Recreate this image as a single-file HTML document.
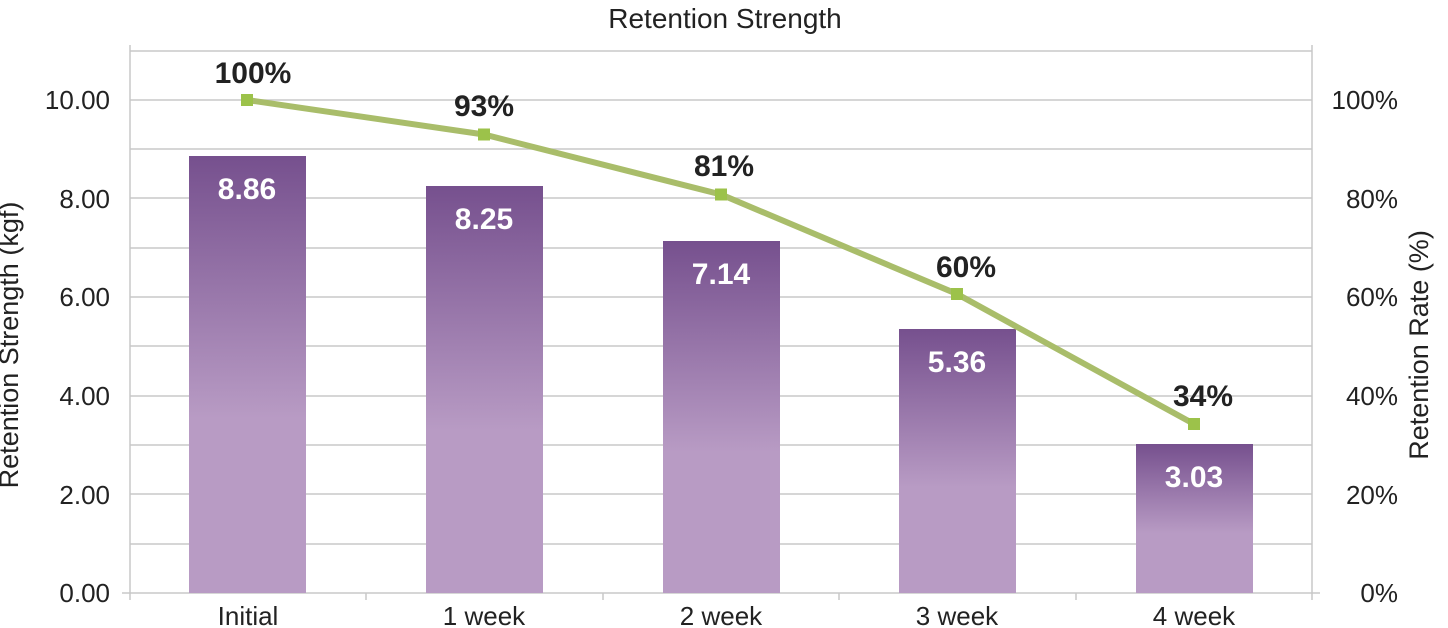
<!DOCTYPE html><html><head><style>body{margin:0;background:#fff}svg{display:block}text{font-family:"Liberation Sans",sans-serif}</style></head><body>
<svg width="1448" height="628" viewBox="0 0 1448 628" xmlns="http://www.w3.org/2000/svg">
<defs><linearGradient id="g" x1="0" y1="0" x2="0" y2="1"><stop offset="0" stop-color="#76508e"/><stop offset="0.6" stop-color="#b89bc4"/><stop offset="1" stop-color="#b89bc4"/></linearGradient></defs>
<text x="725" y="28" font-size="28" text-anchor="middle" fill="#222">Retention Strength</text>
<g stroke="#c8c8c8" stroke-width="1.5">
<line x1="130" x2="1312" y1="51" y2="51"/><line x1="130" x2="1312" y1="100" y2="100"/><line x1="130" x2="1312" y1="149" y2="149"/><line x1="130" x2="1312" y1="198" y2="198"/><line x1="130" x2="1312" y1="248" y2="248"/><line x1="130" x2="1312" y1="297" y2="297"/><line x1="130" x2="1312" y1="346" y2="346"/><line x1="130" x2="1312" y1="396" y2="396"/><line x1="130" x2="1312" y1="445" y2="445"/><line x1="130" x2="1312" y1="494" y2="494"/><line x1="130" x2="1312" y1="544" y2="544"/>
<line x1="130" x2="130" y1="45" y2="600"/><line x1="1312" x2="1312" y1="45" y2="600"/>
<line x1="122" x2="1320" y1="593" y2="593"/>
<line x1="366" x2="366" y1="593" y2="600"/><line x1="603" x2="603" y1="593" y2="600"/><line x1="839" x2="839" y1="593" y2="600"/><line x1="1076" x2="1076" y1="593" y2="600"/>
</g>
<g fill="url(#g)">
<rect x="189" y="156" width="117" height="437"/>
<rect x="426" y="186" width="117" height="407"/>
<rect x="663" y="241" width="117" height="352"/>
<rect x="899" y="329" width="117" height="264"/>
<rect x="1136" y="444" width="117" height="149"/>
</g>
<g fill="#fff" font-size="30" font-weight="bold" text-anchor="middle">
<text x="247" y="199">8.86</text><text x="484" y="229">8.25</text><text x="721" y="284">7.14</text><text x="957" y="372">5.36</text><text x="1194" y="487">3.03</text>
</g>
<polyline points="247,100 484,134.5 721,194.5 957,294 1194,424" fill="none" stroke="#a9bd6a" stroke-width="6"/>
<g fill="#9cc24a"><rect x="241" y="94" width="12" height="12"/><rect x="478" y="128.5" width="12" height="12"/><rect x="715" y="188.5" width="12" height="12"/><rect x="951" y="288" width="12" height="12"/><rect x="1188" y="418" width="12" height="12"/></g>
<g fill="#222" font-size="30" font-weight="bold" text-anchor="middle">
<text x="253" y="83">100%</text><text x="484" y="116">93%</text><text x="724" y="176">81%</text><text x="966" y="277">60%</text><text x="1203" y="406">34%</text>
</g>
<g fill="#222" font-size="26" text-anchor="end">
<text x="110" y="109">10.00</text><text x="110" y="208">8.00</text><text x="110" y="306">6.00</text><text x="110" y="405">4.00</text><text x="110" y="504">2.00</text><text x="110" y="602">0.00</text>
</g>
<g fill="#222" font-size="26" text-anchor="end">
<text x="1398" y="109">100%</text><text x="1398" y="208">80%</text><text x="1398" y="306">60%</text><text x="1398" y="405">40%</text><text x="1398" y="504">20%</text><text x="1398" y="602">0%</text>
</g>
<g fill="#222" font-size="26" text-anchor="middle">
<text x="248" y="625">Initial</text><text x="484" y="625">1 week</text><text x="721" y="625">2 week</text><text x="957" y="625">3 week</text><text x="1194" y="625">4 week</text>
</g>
<text transform="translate(18,345) rotate(-90)" font-size="27" text-anchor="middle" fill="#222">Retention Strength (kgf)</text>
<text transform="translate(1428,345) rotate(-90)" font-size="27" text-anchor="middle" fill="#222">Retention Rate (%)</text>
</svg></body></html>
